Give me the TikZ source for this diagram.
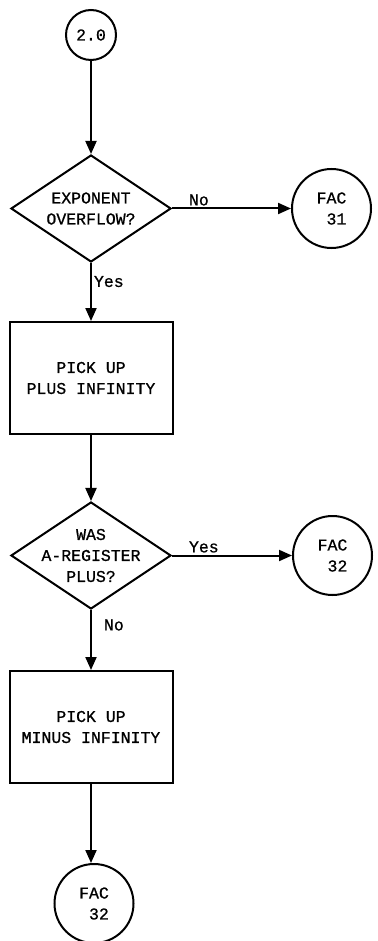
\documentclass[tikz,border=0pt]{standalone}
\usepackage{fontspec}
\setmonofont{Liberation Mono}[FakeBold=0.8]
\usepackage{tikz}
\usetikzlibrary{arrows.meta,positioning,shapes.geometric}

\begin{document}
\begin{tikzpicture}[
  x=1pt, y=-1pt,
  every node/.style={font=\ttfamily\fontsize{16.5}{21}\selectfont},
  term/.style={draw, circle, line width=2pt, minimum size=50pt, inner sep=0pt},
  conn/.style={draw, circle, line width=2pt, minimum size=79pt, inner sep=0pt, align=left},
  proc/.style={draw, rectangle, line width=2pt, minimum width=163pt, minimum height=112pt,
               inner sep=0pt, align=center},
  dec/.style={draw, diamond, line width=2pt, minimum width=160pt, minimum height=107pt,
              inner sep=0pt},
  dtext/.style={align=center, inner sep=0pt},
  arr/.style={-{Triangle[length=13pt,width=11pt]}, line width=2pt},
  lbl/.style={inner sep=2pt},
]
  \useasboundingbox (0,0) rectangle (377,941);
  \node[term] (start) at (91,35) {2.0};
  \node[dec, below=93pt of start, label={[dtext]center:EXPONENT\\OVERFLOW?}] (d1) {};
  \node[conn, right=119pt of d1] (fac31) {FAC\\\hphantom{0}31};
  \node[proc, below=58pt of d1] (b1) {PICK UP\\PLUS INFINITY};
  \node[dec, below=66pt of b1, label={[dtext]center:WAS\\A-REGISTER\\PLUS?}] (d2) {};
  \node[conn, right=120pt of d2] (fac32a) {FAC\\\hphantom{0}32};
  \node[proc, below=60pt of d2] (b2) {PICK UP\\MINUS INFINITY};
  \node[conn, below=79pt of b2, xshift=3pt] (fac32b) {FAC\\\hphantom{0}32};
  \draw[arr] (start) -- (d1);
  \draw[arr] (d1) -- node[lbl, pos=0, anchor=south west, xshift=14pt] {No} (fac31);
  \draw[arr] (d1) -- node[lbl, pos=0.32, anchor=west] {Yes} (b1);
  \draw[arr] (b1) -- (d2);
  \draw[arr] (d2) -- node[lbl, pos=0, anchor=south west, xshift=14pt] {Yes} (fac32a);
  \draw[arr] (d2) -- node[lbl, pos=0.25, anchor=west, xshift=10pt] {No} (b2);
  \draw[arr] (b2) -- (b2.south |- fac32b.north);
\end{tikzpicture}
\end{document}
